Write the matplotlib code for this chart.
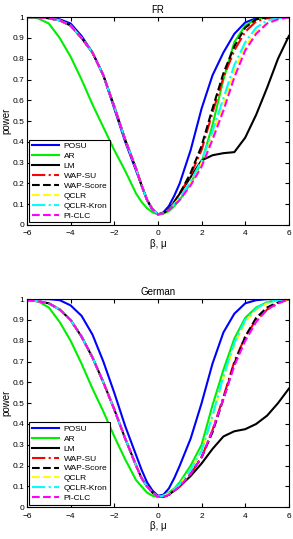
import matplotlib
matplotlib.use("Agg")
import matplotlib.pyplot as plt
import numpy as np

plt.rcParams['font.family'] = ['Liberation Sans', 'DejaVu Sans']

# denser sampling around the minimum
x = [-6, -5.5, -5, -4.5, -4, -3.5, -3, -2.5, -2, -1.5, -1, -0.75, -0.5, -0.25,
     0, 0.25, 0.5, 0.75, 1, 1.5, 2, 2.5, 3, 3.5, 4, 4.5, 5, 5.5, 6]

labels = ["POSU", "AR", "LM", "WAP-SU", "WAP-Score", "QCLR", "QCLR-Kron", "PI-CLC"]
colors = ["#0000ff", "#00ee00", "#000000", "#ff0000", "#000000", "#ffff00", "#00ffff", "#ff00ff"]
styles = ["-", "-", "-", "-.", "--", "--", "-.", "--"]

# FR panel
fr_left = [1.0, 1.0, 0.995, 0.985, 0.96, 0.9, 0.83, 0.72, 0.57, 0.41, 0.27, 0.19, 0.12, 0.075, 0.05]
fr = {
    "POSU":      [1.0, 1.0, 0.997, 0.99, 0.97, 0.91, 0.83, 0.72, 0.56, 0.40, 0.26, 0.19, 0.12, 0.07, 0.05,
                  0.06, 0.09, 0.14, 0.2, 0.36, 0.56, 0.72, 0.83, 0.92, 0.975, 0.995, 1.0, 1.0, 1.0],
    "AR":        [1.0, 0.995, 0.97, 0.9, 0.81, 0.7, 0.58, 0.47, 0.36, 0.26, 0.15, 0.11, 0.08, 0.06, 0.05,
                  0.055, 0.065, 0.09, 0.12, 0.2, 0.3, 0.48, 0.7, 0.88, 0.96, 0.99, 1.0, 1.0, 1.0],
    "LM":        fr_left + [0.055, 0.075, 0.11, 0.15, 0.23, 0.31, 0.335, 0.345, 0.35, 0.42, 0.53, 0.66, 0.8, 0.91],
    "WAP-SU":    fr_left + [0.055, 0.075, 0.11, 0.15, 0.24, 0.36, 0.54, 0.71, 0.84, 0.93, 0.98, 0.995, 1.0, 1.0],
    "WAP-Score": fr_left + [0.055, 0.075, 0.11, 0.15, 0.25, 0.38, 0.56, 0.73, 0.86, 0.95, 0.99, 1.0, 1.0, 1.0],
    "QCLR":      fr_left + [0.055, 0.07, 0.1, 0.13, 0.2, 0.3, 0.43, 0.58, 0.74, 0.86, 0.93, 0.97, 0.99, 1.0],
    "QCLR-Kron": fr_left + [0.055, 0.07, 0.1, 0.13, 0.21, 0.31, 0.45, 0.61, 0.77, 0.88, 0.95, 0.985, 0.995, 1.0],
    "PI-CLC":    fr_left + [0.055, 0.07, 0.095, 0.12, 0.19, 0.28, 0.41, 0.55, 0.71, 0.84, 0.92, 0.97, 0.99, 1.0],
}

# German panel
de_left = [0.995, 0.99, 0.98, 0.95, 0.9, 0.82, 0.72, 0.6, 0.47, 0.33, 0.2, 0.14, 0.1, 0.07, 0.05]
de = {
    "POSU":      [1.0, 1.0, 1.0, 0.995, 0.97, 0.92, 0.83, 0.7, 0.55, 0.39, 0.25, 0.18, 0.12, 0.08, 0.055,
                  0.06, 0.09, 0.14, 0.2, 0.33, 0.5, 0.69, 0.84, 0.93, 0.98, 0.995, 1.0, 1.0, 1.0],
    "AR":        [0.995, 0.99, 0.96, 0.89, 0.8, 0.69, 0.57, 0.46, 0.34, 0.23, 0.13, 0.1, 0.07, 0.055, 0.05,
                  0.055, 0.07, 0.09, 0.12, 0.2, 0.3, 0.49, 0.66, 0.81, 0.91, 0.96, 0.985, 0.995, 1.0],
    "LM":        de_left + [0.05, 0.06, 0.08, 0.1, 0.15, 0.21, 0.28, 0.34, 0.365, 0.375, 0.4, 0.44, 0.5, 0.57],
    "WAP-SU":    de_left + [0.05, 0.06, 0.08, 0.1, 0.16, 0.24, 0.37, 0.53, 0.7, 0.82, 0.9, 0.95, 0.98, 1.0],
    "WAP-Score": de_left + [0.05, 0.06, 0.08, 0.1, 0.16, 0.24, 0.36, 0.52, 0.69, 0.82, 0.91, 0.96, 0.985, 1.0],
    "QCLR":      de_left + [0.055, 0.065, 0.085, 0.11, 0.18, 0.27, 0.43, 0.62, 0.78, 0.89, 0.95, 0.98, 0.995, 1.0],
    "QCLR-Kron": de_left + [0.055, 0.065, 0.085, 0.11, 0.18, 0.27, 0.44, 0.63, 0.79, 0.9, 0.955, 0.985, 0.995, 1.0],
    "PI-CLC":    de_left + [0.05, 0.06, 0.08, 0.1, 0.16, 0.24, 0.37, 0.52, 0.68, 0.8, 0.89, 0.95, 0.98, 1.0],
}

fig = plt.figure(figsize=(2.93, 5.39), dpi=100)
ax1 = fig.add_axes([0.092, 0.583, 0.894, 0.385])
ax2 = fig.add_axes([0.092, 0.059, 0.894, 0.386])

for ax, data, title in [(ax1, fr, "FR"), (ax2, de, "German")]:
    for lab, c, ls in zip(labels, colors, styles):
        ax.plot(x, data[lab], color=c, linestyle=ls, linewidth=1.5, label=lab)
    ax.set_xlim(-6, 6)
    ax.set_ylim(0, 1)
    ax.set_xticks(np.arange(-6, 7, 2))
    ax.set_yticks(np.arange(0, 1.01, 0.1))
    ax.set_yticklabels(["0", "0.1", "0.2", "0.3", "0.4", "0.5", "0.6", "0.7", "0.8", "0.9", "1"])
    ax.tick_params(direction="in", top=True, right=True, labelsize=6, length=3)
    ax.tick_params(axis="x", pad=4)
    ax.tick_params(axis="y", pad=2)
    ax.set_title(title, fontsize=7, pad=3)
    ax.set_xlabel("β, μ", fontsize=7, labelpad=1)
    ax.set_ylabel("power", fontsize=7, labelpad=1)
    leg = ax.legend(loc="lower left", fontsize=6, handlelength=3.3, labelspacing=0.25,
                    handletextpad=0.5, borderpad=0.3, borderaxespad=0.3, fancybox=False)
    leg.get_frame().set_edgecolor("black")
    leg.get_frame().set_linewidth(0.8)
    leg.get_frame().set_alpha(1)

fig.savefig("out.png", dpi=100)
